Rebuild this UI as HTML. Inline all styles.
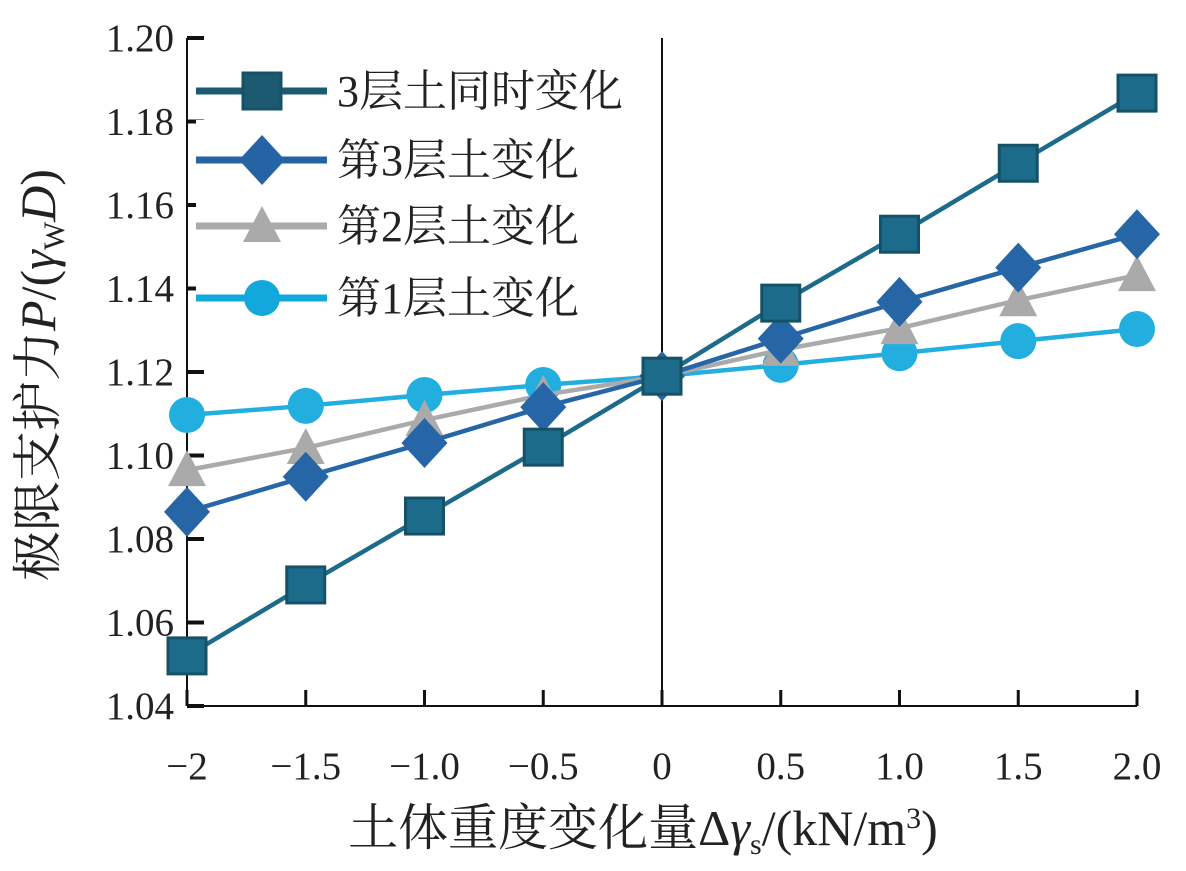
<!DOCTYPE html>
<html><head><meta charset="utf-8"><style>
body{margin:0;background:#fff}
svg text{font-family:"Liberation Serif","Noto Serif CJK SC",serif;fill:#222}
</style></head><body>
<svg id="c" width="1186" height="866"></svg>
<script>
const xs=[-2,-1.5,-1,-0.5,0,0.5,1,1.5,2];
const sAll=[1.052,1.069,1.0855,1.102,1.119,1.1365,1.153,1.170,1.1868];
const sL3=[1.0865,1.0949,1.103,1.1116,1.119,1.128,1.1368,1.145,1.153];
const sL2=[1.0965,1.1018,1.1085,1.1145,1.119,1.1253,1.1305,1.1372,1.1432];
const sL1=[1.1097,1.1119,1.1145,1.1169,1.119,1.1217,1.1245,1.1274,1.1303];
const yTicks=["1.04","1.06","1.08","1.10","1.12","1.14","1.16","1.18","1.20"];
const xTickVals=[-2,-1.5,-1,-0.5,0,0.5,1,1.5,2];
const xTickLabels=["−2","−1.5","−1.0","−0.5","0","0.5","1.0","1.5","2.0"];
const names=["3层土同时变化","第3层土变化","第2层土变化","第1层土变化"];
const NS="http://www.w3.org/2000/svg",svg=document.getElementById('c');
const X=v=>187+(v+2)*237.5, Y=v=>706-(v-1.04)*4175;
function el(t,a,p){const e=document.createElementNS(NS,t);for(const k in a)e.setAttribute(k,a[k]);(p||svg).appendChild(e);return e;}
let e;
e=el('line',{x1:187,y1:38,x2:187,y2:706,stroke:'#111','stroke-width':2});


e=el('line',{x1:187,y1:706,x2:1137,y2:706,stroke:'#111','stroke-width':2});


e=el('line',{x1:X(0),y1:38,x2:X(0),y2:706,stroke:'#111','stroke-width':2});


yTicks.forEach(t=>{const y=Y(+t);
 el('line',{x1:187,y1:y,x2:204,y2:y,stroke:'#111','stroke-width':4});
 e=el('text',{x:174,y:y+13,'text-anchor':'end','font-size':39});e.textContent=t;
 
 });
xTickVals.forEach((v,i)=>{const x=X(v);
 el('line',{x1:x,y1:706,x2:x,y2:690,stroke:'#111','stroke-width':3});
 e=el('text',{x:x,y:779,'text-anchor':'middle','font-size':39});e.textContent=xTickLabels[i];
 
 });
e=el('text',{x:643,y:845,'text-anchor':'middle','font-size':50});
e.innerHTML='土体重度变化量Δ<tspan font-style="italic">γ</tspan><tspan font-size="30" dy="9">s</tspan><tspan dy="-9">/(kN/m</tspan><tspan font-size="30" dy="-17">3</tspan><tspan dy="17">)</tspan>';


e=el('text',{x:0,y:0,'text-anchor':'middle','font-size':50,transform:'translate(55,375) rotate(-90)'});
e.innerHTML='极限支护力<tspan font-style="italic">P</tspan>/(<tspan font-style="italic">γ</tspan><tspan font-size="30" dy="9">W</tspan><tspan dy="-9" font-style="italic">D</tspan>)';


const series=[[sAll,'#1d6b8a','#1b5a70','sq'],[sL3,'#2665a6','#2563a4','di'],[sL2,'#aaaaaa','#aaaaaa','tr'],[sL1,'#22afe0','#12a8dc','ci']];
function marker(g,k,x,y,c){
 if(k=='sq')return el('rect',{x:x-19,y:y-18,width:38,height:36,fill:c,stroke:'#155268','stroke-width':3},g);
 if(k=='di')return el('polygon',{points:`${x},${y-25} ${x+23},${y} ${x},${y+25} ${x-23},${y}`,fill:c},g);
 if(k=='tr')return el('polygon',{points:`${x},${y-20} ${x+19},${y+16} ${x-19},${y+16}`,fill:c},g);
 return el('circle',{cx:x,cy:y,r:18,fill:c},g);}
[3,2,1,0].forEach(i=>{const [d,c,lc,k]=series[i];
 const g=el('g',{});
 
 
 e=el('polyline',{points:d.map((v,j)=>X(xs[j])+','+Y(v)).join(' '),fill:'none',stroke:c,'stroke-width':4.5},g);
 
 
 d.forEach((v,j)=>{const m=marker(g,k,X(xs[j]),Y(v),c);
  
  });});
const ly=[91,160,226,298];
series.forEach(([d,c,lc,k],i)=>{const g=el('g',{});
 
 
 el('rect',{x:196,y:ly[i]-40,width:440,height:62,fill:'#fff'},g);
 el('line',{x1:196,y1:ly[i],x2:327,y2:ly[i],stroke:lc,'stroke-width':7},g);
 marker(g,k,262,ly[i],lc);
 const t=el('text',{x:337,y:ly[i]+15,'font-size':44},g);t.textContent=names[i];});
</script>
</body></html>
